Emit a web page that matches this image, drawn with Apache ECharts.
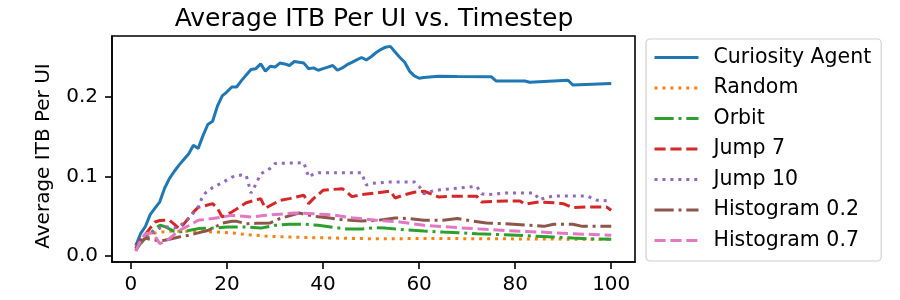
<!DOCTYPE html>
<html>
<head>
<meta charset="utf-8">
<script src="https://cdn.jsdelivr.net/npm/echarts@6/dist/echarts.min.js"></script>
<style>
  html, body { margin: 0; padding: 0; background: #fff; }
  #chart { width: 900px; height: 300px; }
</style>
</head>
<body>
<div id="chart"></div>
<script>
// values
var xTicks = [0, 20, 40, 60, 80, 100];
var yTicks = [0.0, 0.1, 0.2];

var curiosityX = [1,2,3,4,5,6,7,8,9,10,11,12,13,14,15,16,17,18,19,20,21,22,23,24,25,26,27,28,29,30,31,32,33,34,35,36,37,38,39,40,41,42,43,44,45,46,47,48,49,50,51,52,53,54,55,56,57,58,59,60,61,64,68,75,76,82,83,91,92,96,100];
var curiosityY = [0.013,0.028,0.037,0.052,0.060,0.068,0.085,0.097,0.106,0.114,0.121,0.128,0.139,0.135,0.151,0.165,0.169,0.188,0.201,0.206,0.212,0.212,0.220,0.227,0.234,0.235,0.241,0.232,0.238,0.237,0.242,0.241,0.239,0.244,0.243,0.242,0.235,0.236,0.233,0.235,0.237,0.239,0.233,0.236,0.240,0.243,0.246,0.249,0.246,0.250,0.255,0.259,0.262,0.263,0.256,0.249,0.243,0.232,0.226,0.223,0.224,0.2255,0.2252,0.2250,0.2196,0.2196,0.218,0.2205,0.2145,0.2155,0.2165];

var randomX = [1,2,3,4,5,6,8,10,14,18,21,24,28,32,38,45,52,60,70,80,90,100];
var randomY = [0.009,0.016,0.022,0.026,0.029,0.030,0.031,0.031,0.031,0.030,0.029,0.027,0.025,0.024,0.023,0.0222,0.0215,0.022,0.0218,0.0215,0.0212,0.021];

var orbitX = [1,2,3,4,5,6,7,8,9,10,12,14,17,20,24,27,30,33,36,39,42,45,48,51,53,57,61,65,68,72,75,79,84,88,92,96,100];
var orbitY = [0.007,0.016,0.022,0.028,0.034,0.0385,0.037,0.034,0.031,0.030,0.032,0.0344,0.035,0.0364,0.0364,0.035,0.0385,0.040,0.040,0.0385,0.036,0.034,0.034,0.0355,0.035,0.033,0.0314,0.030,0.0293,0.028,0.0272,0.0265,0.025,0.0238,0.0225,0.0215,0.021];

var jump7X = [1,2,3,4,5,6,7,8,9,10,11,12,13,14,15,17,18,19,21,22,24,27,28,31,33,36,37,38,40,42,44,45,46,48,51,54,55,57,59,61,63,64,67,72,73,78,81,82,85,88,90,92,95,99,100];
var jump7Y = [0.010,0.020,0.027,0.035,0.0427,0.0445,0.0448,0.0448,0.040,0.0344,0.040,0.0475,0.055,0.061,0.0625,0.0657,0.060,0.049,0.0552,0.059,0.0668,0.072,0.060,0.0699,0.072,0.0762,0.0657,0.072,0.0824,0.0835,0.0845,0.080,0.0745,0.077,0.079,0.0816,0.0728,0.077,0.080,0.0812,0.077,0.074,0.0749,0.0749,0.0678,0.069,0.069,0.065,0.0678,0.0669,0.0657,0.0607,0.0615,0.0615,0.0573];

var jump10X = [1,2,3,4,5,6,7,8,9,10,11,12,13,14,15,16,17,19,21,23,24,25,26,27,29,30,32,36,37,38,39,48,49,50,54,59,60,61,63,65,68,72,73,74,78,84,85,87,88,95,97,100];
var jump10Y = [0.007,0.016,0.022,0.028,0.030,0.035,0.037,0.036,0.035,0.037,0.042,0.047,0.054,0.0615,0.076,0.082,0.0858,0.092,0.099,0.1017,0.101,0.079,0.090,0.103,0.110,0.116,0.1165,0.117,0.099,0.103,0.1046,0.1046,0.089,0.091,0.093,0.093,0.0874,0.078,0.082,0.0835,0.085,0.0874,0.078,0.077,0.079,0.079,0.0707,0.074,0.0753,0.0753,0.070,0.069];

var hist02X = [1,2,3,4,5,6,7,8,10,12,14,16,18,19,21,22,24,26,29,31,35,38,41,44,48,51,55,58,61,65,68,71,74,78,82,86,88,92,94,100];
var hist02Y = [0.009,0.018,0.0225,0.021,0.020,0.019,0.0197,0.021,0.0239,0.026,0.029,0.032,0.038,0.0414,0.0435,0.0435,0.0405,0.041,0.0415,0.047,0.054,0.050,0.048,0.0455,0.044,0.0445,0.0477,0.047,0.0448,0.0448,0.047,0.044,0.0414,0.0406,0.039,0.0372,0.0398,0.0398,0.0372,0.0372];

var hist07X = [1,2,3,4,5,6,7,8,10,12,14,17,21,25,28,34,38,42,46,51,56,61,68,75,78,85,92,100];
var hist07Y = [0.006,0.020,0.028,0.029,0.025,0.0155,0.018,0.022,0.032,0.038,0.0448,0.047,0.051,0.049,0.051,0.054,0.053,0.0515,0.048,0.045,0.0427,0.0385,0.0356,0.033,0.0318,0.0301,0.028,0.026];

function pairs(xs, ys) {
    return xs.map(function (x, i) { return [x, ys[i]]; });
}

var font = 'DejaVu Sans';
var lw = 3;
var dotted = [3, 4.95];
var dashed = [11.1, 4.8];
var dashdot = [19.2, 4.8, 3, 4.8];
var seriesDefs = [
    { name: 'Curiosity Agent', x: curiosityX, y: curiosityY, color: '#1f77b4', dash: 'solid' },
    { name: 'Random', x: randomX, y: randomY, color: '#ff7f0e', dash: dotted },
    { name: 'Orbit', x: orbitX, y: orbitY, color: '#2ca02c', dash: dashdot },
    { name: 'Jump 7', x: jump7X, y: jump7Y, color: '#d62728', dash: dashed },
    { name: 'Jump 10', x: jump10X, y: jump10Y, color: '#9467bd', dash: dotted },
    { name: 'Histogram 0.2', x: hist02X, y: hist02Y, color: '#8c564b', dash: dashdot },
    { name: 'Histogram 0.7', x: hist07X, y: hist07Y, color: '#e377c2', dash: dashed }
];

var myChart = echarts.init(document.getElementById('chart'));
myChart.setOption({
    animation: false,
    textStyle: { fontFamily: font },
    title: {
        text: 'Average ITB Per UI vs. Timestep',
        left: 369,
        top: 2,
        textAlign: 'center',
        textStyle: { fontFamily: font, fontSize: 25, fontWeight: 'normal', color: '#000' }
    },
    grid: {
        left: 112, top: 36, right: 265, bottom: 38,
        show: true, borderColor: '#000', borderWidth: 1.6, backgroundColor: '#fff'
    },
    legend: {
        orient: 'vertical',
        left: 646, top: 39,
        padding: [8, 10, 10, 7],
        itemGap: 9.5,
        itemWidth: 44, itemHeight: 14,
        borderColor: '#d0d0d0', borderWidth: 1.2, borderRadius: 4,
        backgroundColor: '#fff',
        itemStyle: { opacity: 0 },
        lineStyle: { width: lw },
        textStyle: { fontFamily: font, fontSize: 20.5, color: '#000', lineHeight: 20, padding: [0, 0, 0, 10] },
        data: seriesDefs.map(function (s) { return s.name; })
    },
    xAxis: {
        type: 'value',
        min: -3.95, max: 104.95,
        splitLine: { show: false },
        axisLine: { show: true, onZero: false, lineStyle: { color: '#000', width: 1.6 } },
        axisTick: { show: true, length: 7, customValues: xTicks, lineStyle: { color: '#000', width: 1.6 } },
        axisLabel: { customValues: xTicks, color: '#000', fontSize: 20, fontFamily: font, margin: 13 }
    },
    yAxis: {
        type: 'value',
        min: -0.0075, max: 0.276,
        name: 'Average ITB Per UI',
        nameLocation: 'middle',
        nameGap: 58,
        nameTextStyle: { fontFamily: font, fontSize: 20, color: '#000', padding: [0, 14, 0, 0] },
        splitLine: { show: false },
        axisLine: { show: true, onZero: false, lineStyle: { color: '#000', width: 1.6 } },
        axisTick: { show: true, length: 7, customValues: yTicks, lineStyle: { color: '#000', width: 1.6 } },
        axisLabel: {
            customValues: yTicks, color: '#000', fontSize: 20, fontFamily: font, margin: 14,
            formatter: function (v) { return v.toFixed(1); }
        }
    },
    series: seriesDefs.map(function (s) {
        return {
            name: s.name,
            type: 'line',
            data: pairs(s.x, s.y),
            showSymbol: false,
            symbol: 'none',
            color: s.color,
            lineStyle: { color: s.color, width: lw, type: s.dash }
        };
    })
});
</script>
</body>
</html>
